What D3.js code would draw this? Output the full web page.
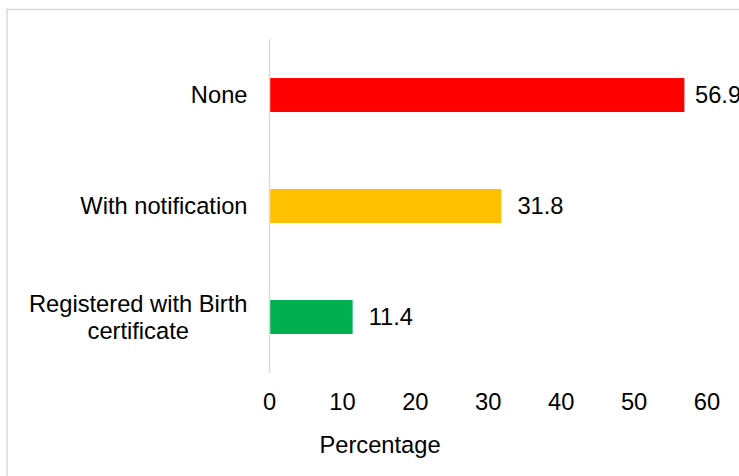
<!DOCTYPE html>
<html>
<head>
<meta charset="utf-8">
<script src="https://cdn.jsdelivr.net/npm/d3@7"></script>
<style>
  html, body { margin: 0; padding: 0; background: #fff; }
  svg { display: block; }
  text { font-family: "Liberation Sans", Arial, sans-serif; fill: #000; }
</style>
</head>
<body>
<svg id="chart" width="739" height="476"></svg>
<script>
const categories = ["None", "With notification", "Registered with Birth certificate"];
const values = [56.9, 31.8, 11.4];
const colors = ["#FF0000", "#FFC000", "#00B050"];
const xTicks = [0, 10, 20, 30, 40, 50, 60];
const axisTitle = "Percentage";

const svg = d3.select("#chart");
const W = 739, H = 476;
const fs = 23.7;

// outer chart border (partially cropped)
svg.append("rect")
  .attr("x", 7).attr("y", 9.5)
  .attr("width", W + 20).attr("height", H + 20)
  .attr("fill", "none").attr("stroke", "#d9d9d9").attr("stroke-width", 1.5);

const x = d3.scaleLinear().domain([0, 60]).range([269.5, 707]);
const y = d3.scaleBand().domain(categories).range([39.5, 372.5]).paddingInner(0.694).paddingOuter(0.347);

// vertical axis line
svg.append("line")
  .attr("x1", x(0)).attr("x2", x(0))
  .attr("y1", 39).attr("y2", 373)
  .attr("stroke", "#d9d9d9").attr("stroke-width", 1.5);

// bars
svg.selectAll("rect.bar").data(categories).enter().append("rect")
  .attr("class", "bar")
  .attr("x", x(0) + 0.75)
  .attr("y", d => y(d))
  .attr("width", (d, i) => x(values[i]) - x(0) - 0.75)
  .attr("height", y.bandwidth())
  .attr("fill", (d, i) => colors[i]);

// value labels
svg.selectAll("text.val").data(categories).enter().append("text")
  .attr("class", "val")
  .attr("x", (d, i) => Math.min(x(values[i]) + 16, 695))
  .attr("y", d => y(d) + y.bandwidth() / 2 + fs * 0.35)
  .attr("font-size", fs)
  .text((d, i) => values[i].toFixed(1));

// category labels (wrapped)
const wrapMap = {
  "Registered with Birth certificate": ["Registered with Birth", "certificate"]
};
const lh = 27;
categories.forEach(c => {
  const lines = wrapMap[c] || [c];
  const cy = y(c) + y.bandwidth() / 2;
  const t = svg.append("text").attr("font-size", fs);
  if (lines.length === 1) {
    t.attr("text-anchor", "end").attr("x", 247.5).attr("y", cy + fs * 0.35).text(lines[0]);
  } else {
    const tmp = svg.append("text").attr("font-size", fs).text(lines[0]);
    const w = tmp.node().getComputedTextLength();
    tmp.remove();
    const cx = 247.5 - w / 2;
    t.attr("text-anchor", "middle");
    lines.forEach((ln, k) => {
      t.append("tspan").attr("x", cx)
        .attr("y", cy + fs * 0.35 + (k - (lines.length - 1) / 2) * lh)
        .text(ln);
    });
  }
});

// x tick labels
svg.selectAll("text.tick").data(xTicks).enter().append("text")
  .attr("class", "tick")
  .attr("x", d => x(d))
  .attr("y", 410)
  .attr("text-anchor", "middle")
  .attr("font-size", fs)
  .text(d => d);

// axis title
svg.append("text")
  .attr("x", 380).attr("y", 453)
  .attr("text-anchor", "middle")
  .attr("font-size", fs)
  .text(axisTitle);
</script>
</body>
</html>
